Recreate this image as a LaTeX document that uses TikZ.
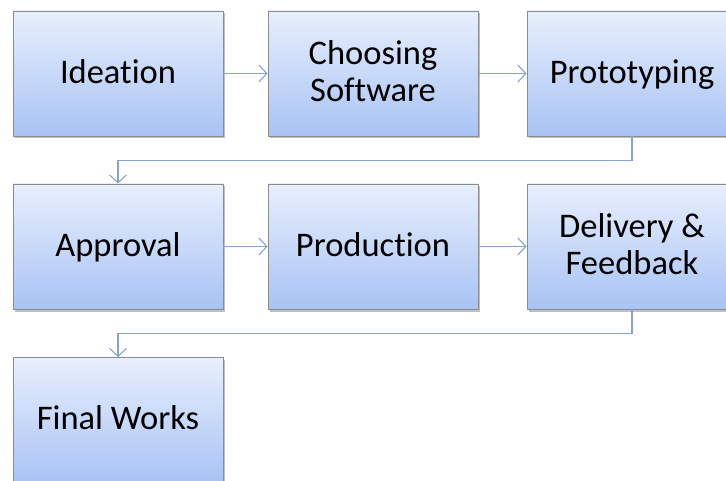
\documentclass[tikz,border=0pt]{standalone}
\usepackage{fontspec}
\setmainfont{Carlito}[Ligatures={NoCommon,NoRare,NoDiscretionary}]
\usetikzlibrary{arrows.meta,shadows}
\definecolor{linkblue}{HTML}{86A4D2}
\definecolor{boxtop}{HTML}{E8EFFD}
\definecolor{boxbot}{HTML}{A8C3F4}
\definecolor{boxedge}{HTML}{8C8C8C}
\newcommand\bxstrut{\rule[-9pt]{0pt}{37.5pt}}
\tikzset{
  stagebox/.style={rectangle, minimum width=210pt, minimum height=125pt,
    inner sep=0pt, top color=boxtop, bottom color=boxbot, draw=boxedge,
    line width=0.8pt, align=center,
    font=\fontsize{34.5}{37.5}\selectfont,
    drop shadow={shadow xshift=1.5pt, shadow yshift=-2.5pt, opacity=0.25, fill=black}},
  link/.style={draw=linkblue, line width=1.1pt,
    -{Straight Barb[length=8pt,width=17pt,line width=1.1pt]}}
}
\begin{document}
\begin{tikzpicture}[x=1pt,y=1pt]
\useasboundingbox (0,0) rectangle (726,-481);
\fill[white] (0,0) rectangle (726,-481);
\begin{scope}
\clip (0,0) rectangle (726,-481);
\node[stagebox] (ide) at (118,-73.5) {\bxstrut Ideation};
\node[stagebox] (cho) at (373,-73.5) {\bxstrut Choosing\\\bxstrut Software};
\node[stagebox] (pro) at (632,-73.5) {\bxstrut Prototyping};
\node[stagebox] (app) at (118,-246.5) {\bxstrut Approval};
\node[stagebox] (prd) at (373,-246.5) {\bxstrut Production};
\node[stagebox] (del) at (632,-246.5) {\bxstrut Delivery \&\\\bxstrut Feedback};
\node[stagebox] (fin) at (118,-420) {\bxstrut Final Works};
\coordinate (c1) at (632,-160.5);
\coordinate (c2) at (118,-160.5);
\coordinate (c3) at (632,-333.5);
\coordinate (c4) at (118,-333.5);
\draw[link] (ide.east) -- (cho.west);
\draw[link] (cho.east) -- (pro.west);
\draw[link] (pro.south) -- (c1) -- (c2) -- (app.north);
\draw[link] (app.east) -- (prd.west);
\draw[link] (prd.east) -- (del.west);
\draw[link] (del.south) -- (c3) -- (c4) -- (fin.north);
\end{scope}
\end{tikzpicture}
\end{document}
